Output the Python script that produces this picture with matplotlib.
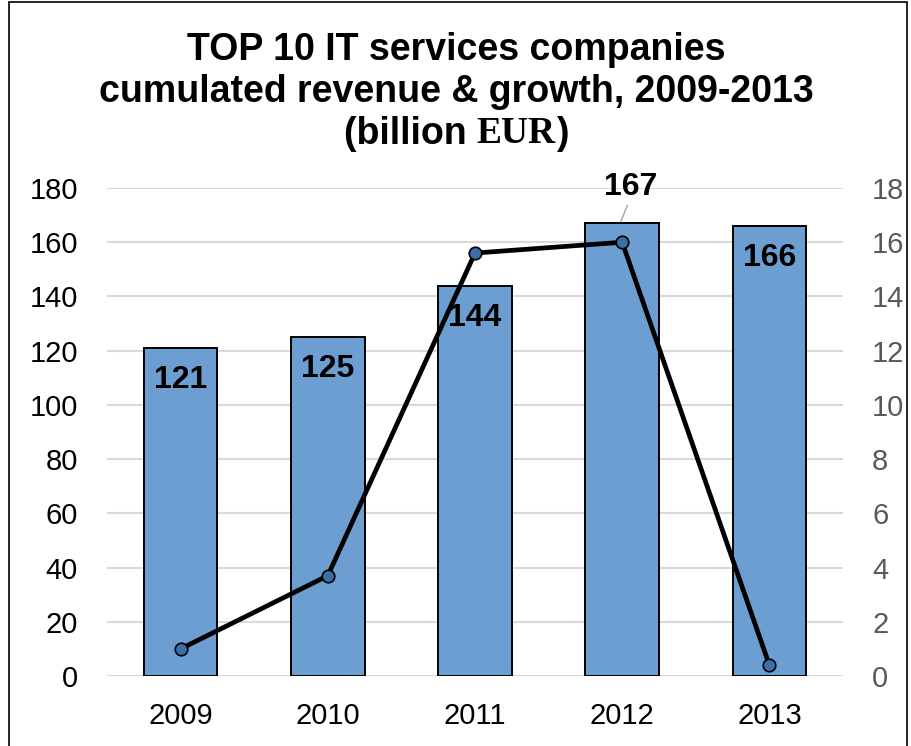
import matplotlib.pyplot as plt
from matplotlib.patches import Rectangle

years = ["2009", "2010", "2011", "2012", "2013"]
revenue = [121, 125, 144, 167, 166]
growth = [1.0, 3.7, 15.6, 16.0, 0.4]

SANS = "Liberation Sans"
SERIF = "Liberation Serif"
BAR_COLOR = "#6C9ED1"
MARKER_COLOR = "#3C6FA6"

plt.rcParams["font.family"] = SANS

fig = plt.figure(figsize=(9.12, 7.46), dpi=100)
ax = fig.add_axes([107 / 912, 70 / 746, 736 / 912, 488 / 746])
ax2 = ax.twinx()

x = list(range(len(years)))
ax.bar(x, revenue, width=0.5, color=BAR_COLOR, edgecolor="black",
       linewidth=1.4, zorder=2)
ax.set_ylim(0, 180)
ax.set_yticks(range(0, 181, 20))
ax.set_xlim(-0.5, len(years) - 0.5)
ax.set_xticks(x)
ax.set_xticklabels(years)
ax.grid(axis="y", color="#D9D9D9", linewidth=1.5, zorder=0)
ax.set_axisbelow(True)
ax.tick_params(axis="both", length=0, labelsize=21)
ax.tick_params(axis="x", pad=19)
ax.tick_params(axis="y", pad=21)
for s in ax.spines.values():
    s.set_visible(False)

ax2.plot(x, growth, color="black", linewidth=3.4, marker="o", markersize=9,
         markerfacecolor=MARKER_COLOR, markeredgecolor="black",
         markeredgewidth=1.2, zorder=3)
ax2.set_ylim(0, 18)
ax2.set_yticks(range(0, 19, 2))
ax2.tick_params(axis="y", length=0, labelsize=21, labelcolor="#595959", pad=21)
for s in ax2.spines.values():
    s.set_visible(False)

# data labels (the 2012 one sits above the bar with a leader line)
for i, v in enumerate(revenue):
    if i == 3:
        ax.annotate(str(v), (i, v), xytext=(6, 26), textcoords="offset points",
                    ha="center", va="center", fontsize=23, fontweight="bold")
        ax.annotate("", (i - 0.01, v + 0.5), xytext=(i + 0.035, v + 6.6),
                    arrowprops=dict(arrowstyle="-", color="#A6A6A6", lw=1,
                                    shrinkA=0, shrinkB=0))
    else:
        ax.annotate(str(v), (i, v), xytext=(0, -23), textcoords="offset points",
                    ha="center", va="center", fontsize=23, fontweight="bold",
                    zorder=4)

# title
fig.text(0.5, 0.933, "TOP 10 IT services companies", ha="center", va="center",
         fontsize=27, fontweight="bold")
fig.text(0.5, 0.877, "cumulated revenue & growth, 2009-2013", ha="center",
         va="center", fontsize=27, fontweight="bold")

renderer = fig.canvas.get_renderer()
parts = [("(billion ", SANS), ("EUR", SERIF), (")", SANS)]
texts = [fig.text(0, 0.821, p, fontsize=27, fontweight="bold", family=f,
                  va="center", ha="left") for p, f in parts]
widths = [t.get_window_extent(renderer).width for t in texts]
left = (fig.bbox.width - sum(widths)) / 2
for t, w in zip(texts, widths):
    t.set_x(left / fig.bbox.width)
    left += w

# outer frame
fig.patches.append(Rectangle((9 / 912, -0.01), (907 - 9) / 912, 1.01 - 2 / 746,
                             transform=fig.transFigure, fill=False,
                             edgecolor="black", linewidth=1.2))

fig.savefig("out.png", dpi=100)
